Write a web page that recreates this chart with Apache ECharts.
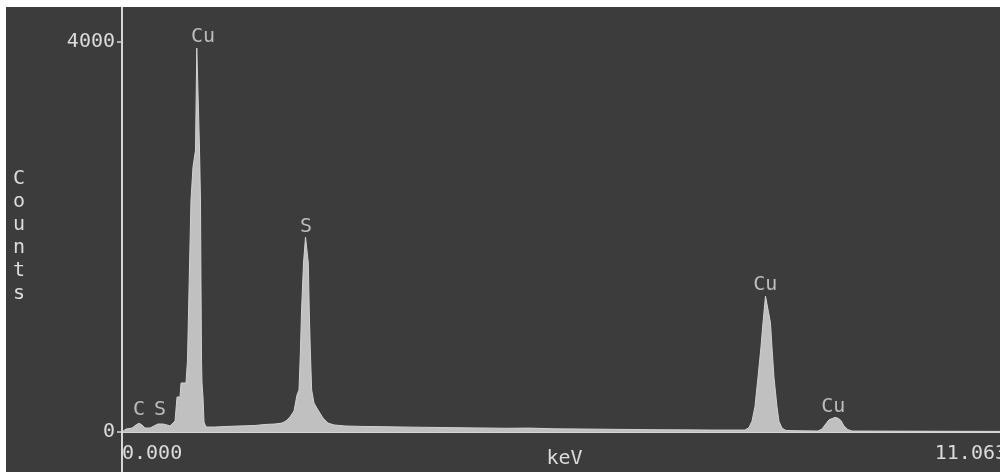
<!DOCTYPE html>
<html>
<head>
<meta charset="utf-8">
<script src="https://cdn.jsdelivr.net/npm/echarts@6/dist/echarts.min.js"></script>
<style>
  html, body { margin: 0; padding: 0; background: #ffffff; width: 1000px; height: 472px; overflow: hidden; }
  #chart { position: absolute; left: 6px; top: 7px; width: 994px; height: 465px; }
</style>
</head>
<body>
<div id="chart"></div>
<script>
// Energy (keV) and counts
const energyKeV = [
  0.000, 0.050, 0.125, 0.175, 0.2125, 0.250, 0.2875, 0.350, 0.400, 0.450, 0.5125, 0.5625,
  0.600, 0.663, 0.688, 0.725, 0.738, 0.800, 0.819, 0.8375, 0.8625, 0.8875, 0.919, 0.925,
  0.935, 0.950, 0.956, 0.969, 0.981, 0.9875, 0.994, 1.000, 1.0125, 1.025, 1.050,
  1.1625, 1.2875, 1.475, 1.6625, 1.7875, 1.9125, 2.000, 2.050, 2.100, 2.150, 2.1875,
  2.2125, 2.231, 2.244, 2.269, 2.294, 2.306, 2.329, 2.341, 2.354, 2.371, 2.400, 2.450,
  2.5125, 2.575, 2.650, 2.7875, 3.0, 3.3, 3.6, 4.0, 4.4, 4.8, 5.1, 5.4, 5.8, 6.2, 6.6,
  7.0, 7.4, 7.7, 7.7875, 7.8375, 7.875, 7.9125, 7.950, 7.9875, 8.0125, 8.044, 8.069,
  8.106, 8.125, 8.150, 8.1875, 8.2125, 8.250, 8.300, 8.5, 8.700, 8.750, 8.800, 8.8375,
  8.8625, 8.9125, 8.950, 8.9875, 9.025, 9.075, 9.125, 9.5, 10.0, 10.5, 11.063
];
const spectrumCounts = [
  0, 30, 40, 72, 90, 72, 41, 41, 62, 82, 82, 72,
  62, 113, 359, 359, 503, 503, 738, 1456, 2380, 2718, 2892, 3303,
  3938, 3938, 3303, 2892, 2380, 1528, 738, 503, 359, 103, 51,
  51, 56, 62, 67, 77, 82, 92, 113, 154, 215, 379,
  431, 841, 1231, 1733, 2000, 2000, 1733, 1231, 841, 431, 297, 226,
  144, 92, 72, 62, 57, 54, 50, 46, 42, 38, 40, 33, 30, 27, 24,
  22, 20, 20, 20, 45, 110, 260, 560, 870, 1120, 1395, 1395,
  1120, 870, 560, 260, 110, 40, 16, 12, 10, 30, 85, 125,
  142, 150, 142, 118, 62, 24, 10, 9, 8, 7, 6
];

// Peak annotations
const peakNames = ['C', 'S', 'Cu', 'S', 'Cu', 'Cu'];
const peakLabelKeV = [0.2125, 0.475, 1.0125, 2.30, 8.04, 8.89];
const peakLabelCounts = [226, 226, 4055, 2105, 1508, 256];

// Axis tick labels
const yTickValues = [0, 4000];
const xTickValues = [0, 11.063];
const xAxisName = 'keV';
const yAxisName = 'Counts';

const textColor = '#dcdcdc';
const axisColor = '#d6d6d6';
const fontFamily = '"DejaVu Sans Mono", "Liberation Mono", monospace';

// stacked upright letters, pushed down a little with a spacer line
const yNameRich = '{g| }\n' + yAxisName.split('').map(ch => '{t|' + ch + '}').join('\n');

const chart = echarts.init(document.getElementById('chart'), null, { renderer: 'canvas' });
const option = {
  backgroundColor: '#3c3c3c',
  animation: false,
  grid: { left: 116, top: 0, width: 885, height: 425, outerBoundsMode: 'none', containLabel: false },
  xAxis: {
    type: 'value',
    min: 0,
    max: 11.063,
    name: xAxisName,
    nameLocation: 'middle',
    nameGap: 17,
    nameMoveOverlap: false,
    nameTextStyle: { color: textColor, fontFamily: fontFamily, fontSize: 20 },
    axisLine: { show: true, lineStyle: { color: axisColor, width: 2 } },
    axisTick: { show: false },
    splitLine: { show: false },
    axisLabel: {
      customValues: xTickValues,
      formatter: v => v.toFixed(3),
      color: textColor,
      fontFamily: fontFamily,
      fontSize: 20,
      margin: 12,
      alignMinLabel: 'left',
      alignMaxLabel: 'right'
    }
  },
  yAxis: {
    type: 'value',
    min: 0,
    max: 4360,
    name: yNameRich,
    nameLocation: 'middle',
    nameRotate: 0,
    nameGap: 103,
    nameMoveOverlap: false,
    nameTextStyle: {
      color: textColor, fontFamily: fontFamily, fontSize: 20, align: 'center',
      rich: {
        g: { lineHeight: 34, fontSize: 20, color: textColor, fontFamily: fontFamily },
        t: { lineHeight: 23, fontSize: 20, color: textColor, fontFamily: fontFamily }
      }
    },
    axisLine: { show: true, lineStyle: { color: axisColor, width: 2 } },
    axisTick: { show: true, customValues: yTickValues, length: 5, lineStyle: { color: axisColor, width: 1.5 } },
    splitLine: { show: false },
    axisLabel: {
      customValues: yTickValues,
      formatter: v => String(v),
      color: textColor,
      fontFamily: fontFamily,
      fontSize: 20,
      margin: 7,
      padding: [0, 0, 7, 0]
    }
  },
  series: [
    {
      type: 'line',
      data: energyKeV.map((e, i) => [e, spectrumCounts[i]]),
      showSymbol: false,
      symbol: 'none',
      silent: true,
      lineStyle: { color: '#d2d2d2', width: 1 },
      areaStyle: { color: '#c0c0c0', opacity: 1 },
      z: 3
    },
    {
      type: 'scatter',
      data: peakLabelKeV.map((e, i) => ({ value: [e, peakLabelCounts[i]], name: peakNames[i] })),
      symbolSize: 0,
      silent: true,
      label: {
        show: true,
        position: 'inside',
        formatter: p => p.name,
        color: textColor,
        fontFamily: fontFamily,
        fontSize: 20
      },
      z: 5
    }
  ]
};
chart.setOption(option);

// Extend the y-axis line below the x-axis to the bottom edge (as in the original printout)
const origin = chart.convertToPixel({ gridIndex: 0 }, [0, 0]);
chart.setOption({
  graphic: [{
    type: 'line',
    silent: true,
    shape: { x1: origin[0], y1: origin[1], x2: origin[0], y2: chart.getHeight() },
    style: { stroke: axisColor, lineWidth: 2 },
    z: 10
  }]
});
</script>
</body>
</html>
